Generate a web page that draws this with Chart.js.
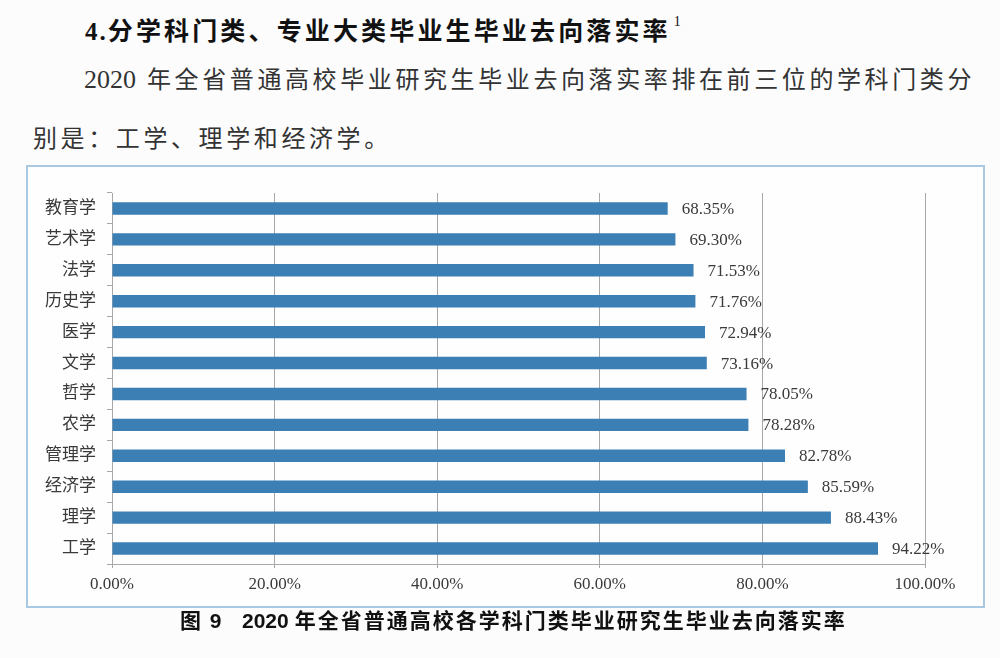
<!DOCTYPE html>
<html lang="zh-CN">
<head>
<meta charset="utf-8">
<title>2020 年全省普通高校各学科门类毕业研究生毕业去向落实率</title>
<script src="https://cdn.jsdelivr.net/npm/chart.js@4.4.0/dist/chart.umd.min.js"></script>
<style>
    html, body {
        margin: 0;
        padding: 0;
        width: 1000px;
        height: 658px;
        background: #fcfcfd;
        overflow: hidden;
        font-family: "Noto Sans CJK SC", "Liberation Serif", sans-serif;
        color: #222;
    }
    .line {
        position: absolute;
        white-space: nowrap;
        line-height: 1;
    }
    .heading {
        left: 85px;
        top: 17px;
        font-size: 25px;
        font-weight: 700;
        letter-spacing: 3.15px;
        color: #111;
    }
    .heading .num { font-family: "Liberation Serif", serif; letter-spacing: 2px; }
    .heading sup {
        font-size: 14px;
        font-weight: 400;
        margin-left: 3px;
        font-family: "Liberation Serif", serif;
        vertical-align: top;
        position: relative;
        top: -2px;
    }
    .para {
        font-size: 24px;
        letter-spacing: 3.6px;
        color: #333;
    }
    .para .num { font-family: "Liberation Serif", serif; letter-spacing: 0; margin-right: 11px; font-size: 26px; }
    .caption {
        top: 609px;
        font-size: 21px;
        font-weight: 700;
        letter-spacing: 2px;
        color: #111;
    }
    .caption .num { font-family: "Liberation Sans", sans-serif; letter-spacing: 0; margin-right: 6px; }
    #chartBox {
        position: absolute;
        left: 26px;
        top: 165px;
        width: 955px;
        height: 439px;
        border: 2px solid #a9c9e2;
        background: #fefefe;
    }
    #chartBox canvas { display: block; }
</style>
</head>
<body>
<div class="line heading"><span class="num">4.</span>分学科门类、专业大类毕业生毕业去向落实率<sup>1</sup></div>
<div class="line para" style="left:84px; top:66px;"><span class="num">2020</span>年全省普通高校毕业研究生毕业去向落实率排在前三位的学科门类分</div>
<div class="line para" style="left:33px; top:125px;">别是：工学、理学和经济学。</div>

<div id="chartBox"><canvas id="rateChart" width="955" height="439"></canvas></div>

<div class="line caption" style="left:180px;">图 <span class="num">9</span></div>
<div class="line caption" style="left:242px;"><span class="num">2020</span>年全省普通高校各学科门类毕业研究生毕业去向落实率</div>

<script>
const subjects = ["教育学", "艺术学", "法学", "历史学", "医学", "文学", "哲学", "农学", "管理学", "经济学", "理学", "工学"];
const rates = [68.35, 69.30, 71.53, 71.76, 72.94, 73.16, 78.05, 78.28, 82.78, 85.59, 88.43, 94.22];
const axisTicks = [0, 20, 40, 60, 80, 100];

const BAR_COLOUR = "#3b7fb5";
const GRID_COLOUR = "#a8a8a8";
const TEXT_COLOUR = "#3a3a3a";
const FONT_FAMILY = '"Liberation Serif", "Noto Sans CJK SC", serif';

function pct(v) {
    return v.toFixed(2) + "%";
}

// value labels at the end of each bar
const valueLabels = {
    id: "valueLabels",
    afterDatasetsDraw(chart) {
        const ctx = chart.ctx;
        const meta = chart.getDatasetMeta(0);
        ctx.save();
        ctx.font = "17px " + FONT_FAMILY;
        ctx.fillStyle = TEXT_COLOUR;
        ctx.textAlign = "left";
        ctx.textBaseline = "middle";
        meta.data.forEach((bar, i) => {
            ctx.fillText(pct(rates[i]), bar.x + 14, bar.y + 1);
        });
        ctx.restore();
    }
};

new Chart(document.getElementById("rateChart"), {
    type: "bar",
    data: {
        labels: subjects,
        datasets: [{
            label: "毕业去向落实率",
            data: rates,
            backgroundColor: BAR_COLOUR,
            borderWidth: 0,
            barPercentage: 0.4,
            categoryPercentage: 1.0
        }]
    },
    options: {
        indexAxis: "y",
        responsive: false,
        animation: false,
        layout: {
            padding: {top: 26, right: 58, bottom: 0, left: 0}
        },
        plugins: {
            legend: {display: false},
            tooltip: {enabled: false}
        },
        scales: {
            x: {
                min: axisTicks[0],
                max: axisTicks[axisTicks.length - 1],
                afterBuildTicks: scale => {
                    scale.ticks = axisTicks.map(v => ({value: v}));
                },
                afterFit: scale => {
                    scale.height = 42;
                },
                grid: {
                    color: GRID_COLOUR,
                    lineWidth: 1,
                    tickLength: 4
                },
                border: {color: GRID_COLOUR, width: 1},
                ticks: {
                    callback: v => pct(v),
                    color: TEXT_COLOUR,
                    font: {family: FONT_FAMILY, size: 17},
                    padding: 6,
                    maxRotation: 0
                }
            },
            y: {
                afterFit: scale => {
                    scale.width = 84;
                },
                grid: {
                    drawOnChartArea: false,
                    color: GRID_COLOUR,
                    tickLength: 5
                },
                border: {color: GRID_COLOUR, width: 1},
                ticks: {
                    color: TEXT_COLOUR,
                    font: {family: FONT_FAMILY, size: 17},
                    padding: 11
                }
            }
        }
    },
    plugins: [valueLabels]
});
</script>
</body>
</html>
